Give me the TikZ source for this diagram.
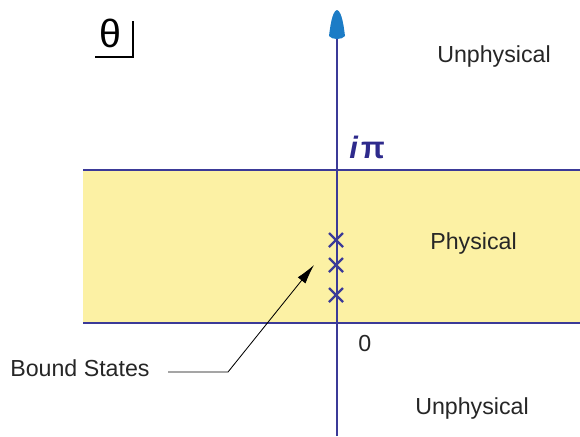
\documentclass[tikz,border=0pt]{standalone}
\usepackage{fontspec}
\setmainfont{Liberation Sans}
\usetikzlibrary{arrows.meta}
\definecolor{axisblue}{HTML}{3B3A98}
\definecolor{tipblue}{HTML}{1C7CC6}
\definecolor{bandyellow}{HTML}{FCF1A4}
\definecolor{ink}{HTML}{2E2A8C}
\tikzset{
  bandline/.style={axisblue, line width=1.8pt},
  cross/.style={axisblue, line width=1.6pt},
  lbl/.style={font=\fontsize{16.5}{18}\selectfont, text=black!85, inner sep=0pt},
}
\begin{document}
\begin{tikzpicture}[x=0.025cm, y=-0.025cm]
\useasboundingbox (0,0) rectangle (580,436);
% band
\fill[bandyellow] (83,170) rectangle (580,323);
\coordinate (tl) at (83,170); \coordinate (tr) at (580,170);
\coordinate (bl) at (83,323); \coordinate (br) at (580,323);
\draw[bandline] (tl) -- (tr);
\draw[bandline] (bl) -- (br);
% axis
\coordinate (axb) at (337,436);
\coordinate (axt) at (337,36);
\draw[axisblue, line width=1.8pt] (axb) -- (axt);
\fill[tipblue] (337,10) .. controls (342,11) and (344,28) .. (345,36)
  .. controls (342,40) and (332,40) .. (329,36)
  .. controls (330,28) and (332,11) .. (337,10);
% crosses
\foreach \yy/\nm in {240/c1,265/c2,295/c3}{
  \coordinate (\nm) at (336,\yy);
  \draw[cross] ([shift={(-7,-7)}]\nm) -- ([shift={(7,7)}]\nm);
  \draw[cross] ([shift={(-7,7)}]\nm) -- ([shift={(7,-7)}]\nm);
}
% labels
\node[lbl, anchor=west] (unp1) at (437,56) {Unphysical};
\node[lbl, anchor=west] (phys) at (430,243) {Physical};
\node[lbl, anchor=west] (unp2) at (415,408) {Unphysical};
\node[lbl, anchor=west] (zero) at (358,344) {0};
\node[lbl, anchor=west] (bs) at (10,368) {Bound States};
\node[anchor=west, text=ink, inner sep=0pt, font=\fontsize{22}{24}\selectfont\bfseries] (ipi) at (349,147) {\textit{i}\kern2pt π};
% theta box
\node[inner sep=0pt, font=\fontsize{28}{30}\selectfont] (theta) at (110,33) {θ};
\coordinate (th1) at (95,57); \coordinate (th2) at (133,57); \coordinate (th3) at (133,21);
\draw[black, line width=0.8pt] (th1) -- (th2) -- (th3);
% bound states arrow
\coordinate (b1) at (168,372);
\coordinate (b2) at (228,372);
\coordinate (b3) at (314,265);
\draw[black, line width=0.6pt, -{Latex[length=14pt,width=7pt]}] (b1) -- (b2) -- (b3);
\end{tikzpicture}
\end{document}
